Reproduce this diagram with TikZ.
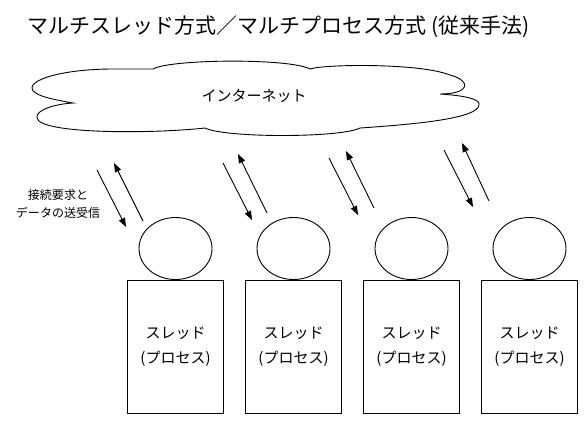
\documentclass[tikz,border=0pt]{standalone}
\usepackage{fontspec}
\setmainfont{Noto Sans CJK JP}
\usetikzlibrary{arrows.meta,shapes.geometric}
\tikzset{
  ln/.style={line width=0.9pt, black},
  thread/.style={ln, draw, rectangle, minimum width=96pt, minimum height=133pt, inner sep=0pt},
  head/.style={ln, draw, ellipse, minimum width=73pt, minimum height=62pt, inner sep=0pt},
  lbl/.style={font=\fontsize{15}{25}\selectfont, align=center, inner sep=0pt},
  flow/.style={ln, -{Triangle[length=9pt,width=6.5pt]}},
}
\begin{document}
\begin{tikzpicture}[x=1pt,y=-1pt]
\useasboundingbox (0,0) rectangle (588,424);
\fill[white] (0,0) rectangle (588,424);
% title
\node[inner sep=0pt, font=\fontsize{21}{24}\selectfont] (title) at (278.5,27) {マルチスレッド方式／マルチプロセス方式 (従来手法)};
% cloud
\draw[ln] (73,103) .. controls (50,99) and (32,95) .. (32,88)
  .. controls (32,78) and (68,69) .. (113,69)
  -- (153,69)
  .. controls (170,59) and (290,58) .. (310,69)
  .. controls (325,64) and (420,63) .. (450,75)
  .. controls (472,81) and (470,94) .. (440,94)
  .. controls (470,96) and (480,100) .. (479,105)
  .. controls (478,118) and (420,124) .. (360,128)
  .. controls (340,138) and (225,138) .. (205,128)
  .. controls (150,134) and (40,134) .. (37,118)
  .. controls (35,110) and (55,104) .. cycle;
\node[lbl] (internet) at (254,96) {インターネット};
% side label
\node[inner sep=0pt, align=center, font=\fontsize{12}{17.7}\selectfont] (note) at (58,204) {接続要求と\\データの送受信};
% threads
\foreach \i/\x in {1/175.5,2/293.5,3/411.5,4/529.5}{
  \node[thread] (t\i) at (\x,346.7) {};
  \node[lbl] (l\i) at (\x,346.5) {スレッド\\(プロセス)};
  \node[head] (h\i) at (\x,248.5) {};
}
% arrow end points
\coordinate (d1s) at (97,170);  \coordinate (d1e) at (126,227);
\coordinate (u1s) at (143,221); \coordinate (u1e) at (114,163);
\coordinate (d2s) at (223,163); \coordinate (d2e) at (252,220);
\coordinate (u2s) at (267,213); \coordinate (u2e) at (238,154);
\coordinate (d3s) at (329,158); \coordinate (d3e) at (358,215);
\coordinate (u3s) at (374,208); \coordinate (u3e) at (346,151);
\coordinate (d4s) at (444,150); \coordinate (d4e) at (473,207);
\coordinate (u4s) at (489,201); \coordinate (u4e) at (462,143);
\foreach \i in {1,2,3,4}{
  \draw[flow] (d\i s) -- (d\i e);
  \draw[flow] (u\i s) -- (u\i e);
}
\end{tikzpicture}
\end{document}
